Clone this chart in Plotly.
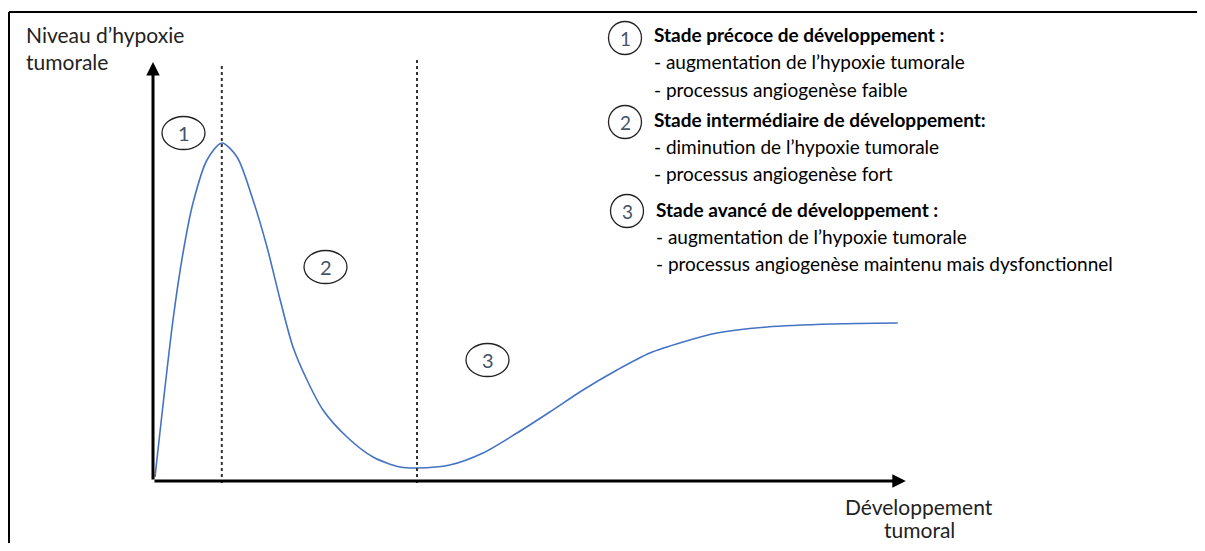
import plotly.graph_objects as go

# curve: development (x) vs hypoxia level (y), arbitrary units
developpement = [0.25, 2.5, 3.75, 5.0, 6.75, 8.6, 10.5, 12.5, 14.25, 15.9, 17.5, 19.25,
                 21.25, 24.25, 27.5, 30.9, 33.0, 37.1, 41.25, 45.5, 49.6, 53.75, 58.0,
                 62.1, 66.25, 70.5, 76.75, 85.0, 93.1]
hypoxie = [1.0, 40.25, 57.0, 69.5, 80.25, 84.5, 81.0, 70.25, 58.5, 45.25, 33.5, 25.25,
           17.75, 11.0, 6.0, 3.5, 3.25, 4.0, 7.0, 12.0, 17.25, 22.75, 27.75,
           32.0, 34.75, 37.0, 38.5, 39.25, 39.5]

stage_bounds = [8.6, 33.0]          # dotted separators between stages
stage_bound_top = [104.0, 106.0]
stage_numbers = ["1", "2", "3"]

stage_titles = ["Stade précoce de développement :",
                "Stade intermédiaire de développement:",
                "Stade avancé de développement :"]
stage_points = [["- augmentation de l’hypoxie tumorale", "- processus angiogenèse faible"],
                ["- diminution de l’hypoxie tumorale", "- processus angiogenèse fort"],
                ["- augmentation de l’hypoxie tumorale",
                 "- processus angiogenèse maintenu mais dysfonctionnel"]]

x_max, y_max = 94.1, 104.75

# the page body keeps its 8px margin, so the figure sits 8px in and is shrunk to fit
OFF = 8
W, H = 1205 - 2 * OFF, 551 - 2 * OFF
X0, SX = 153, 8.0   # screen pixel of x origin, px per unit
Y0, SY = 481, 4.0

FONT = "Lato, 'Open Sans', 'Noto Sans', sans-serif"
NUM_COLOR = "#44546A"


def fx(p):
    return (p - OFF) / W


def fy(p):
    return 1 - (p - OFF) / H


fig = go.Figure()
fig.add_trace(go.Scatter(x=developpement, y=hypoxie, mode="lines",
                         line=dict(color="#4472C4", width=1.6, shape="spline", smoothing=0.8),
                         hoverinfo="skip", showlegend=False))

shapes = []
annotations = []

# frame: only the top and left edges are inside the picture
shapes.append(dict(type="line", xref="paper", yref="paper", x0=fx(9), x1=1.0, y0=fy(12), y1=fy(12),
                   line=dict(color="black", width=2)))
shapes.append(dict(type="line", xref="paper", yref="paper", x0=fx(9), x1=fx(9), y0=0.0, y1=fy(12),
                   line=dict(color="black", width=2)))

# dotted stage separators
for xb, top in zip(stage_bounds, stage_bound_top):
    shapes.append(dict(type="line", xref="x", yref="y", x0=xb, x1=xb, y0=-0.5, y1=top,
                       line=dict(color="#333333", width=2, dash="dot")))

# axes with arrows
annotations.append(dict(x=0, y=y_max, ax=0, ay=0, xref="x", yref="y", axref="x", ayref="y",
                        text="", showarrow=True, arrowhead=2, arrowsize=0.9, arrowwidth=3,
                        arrowcolor="black", standoff=0))
annotations.append(dict(x=x_max, y=0, ax=0, ay=0, xref="x", yref="y", axref="x", ayref="y",
                        text="", showarrow=True, arrowhead=2, arrowsize=0.9, arrowwidth=3,
                        arrowcolor="black", standoff=0))

# axis titles
annotations.append(dict(x=fx(24), y=fy(20), xref="paper", yref="paper", xanchor="left",
                        yanchor="top", align="left", showarrow=False,
                        text="Niveau d’hypoxie<br>tumorale",
                        font=dict(family=FONT, size=21, color="#222222")))
for txt, ty in zip(["Développement", "tumoral"], [506, 529]):
    annotations.append(dict(x=fx(919), y=fy(ty), xref="paper", yref="paper", xanchor="center",
                            yanchor="middle", showarrow=False, text=txt,
                            font=dict(family=FONT, size=21, color="#222222")))

# numbered ellipses on the chart
chart_labels = [(183.5, 133), (325.5, 267), (487.5, 360)]
for num, (cx, cy) in zip(stage_numbers, chart_labels):
    shapes.append(dict(type="circle", xref="paper", yref="paper",
                       x0=fx(cx - 21.5), x1=fx(cx + 21.5), y0=fy(cy + 16.5), y1=fy(cy - 16.5),
                       line=dict(color="#222222", width=1.3)))
    annotations.append(dict(x=fx(cx), y=fy(cy), xref="paper", yref="paper", showarrow=False,
                            xanchor="center", yanchor="middle",
                            text=num, font=dict(family=FONT, size=20, color=NUM_COLOR)))

# legend block
legend_rows = [(625, 38, 34), (625, 122, 119), (627, 211, 209)]
for i, (cx, cy, ty) in enumerate(legend_rows):
    shapes.append(dict(type="circle", xref="paper", yref="paper",
                       x0=fx(cx - 16.5), x1=fx(cx + 16.5), y0=fy(cy + 16.5), y1=fy(cy - 16.5),
                       line=dict(color="#222222", width=1.3)))
    annotations.append(dict(x=fx(cx), y=fy(cy), xref="paper", yref="paper", showarrow=False,
                            xanchor="center", yanchor="middle",
                            text=stage_numbers[i], font=dict(family=FONT, size=19, color=NUM_COLOR)))
    tx = 652 if i < 2 else 654
    annotations.append(dict(x=fx(tx), y=fy(ty), xref="paper", yref="paper", xanchor="left",
                            yanchor="middle", showarrow=False, text="<b>" + stage_titles[i] + "</b>",
                            font=dict(family=FONT, size=19, color="black")))
    for j, line in enumerate(stage_points[i]):
        annotations.append(dict(x=fx(tx), y=fy(ty + 27.5 * (j + 1)), xref="paper", yref="paper",
                                xanchor="left", yanchor="middle", showarrow=False, text=line,
                                font=dict(family=FONT, size=19, color="black")))

fig.update_layout(
    width=W, height=H,
    margin=dict(l=0, r=0, t=0, b=0),
    paper_bgcolor="white", plot_bgcolor="white",
    xaxis=dict(range=[(OFF - X0) / SX, (OFF + W - X0) / SX], visible=False, fixedrange=True),
    yaxis=dict(range=[(Y0 - OFF - H) / SY, (Y0 - OFF) / SY], visible=False, fixedrange=True),
    shapes=shapes, annotations=annotations,
    showlegend=False,
)

fig.write_html("out.html")
